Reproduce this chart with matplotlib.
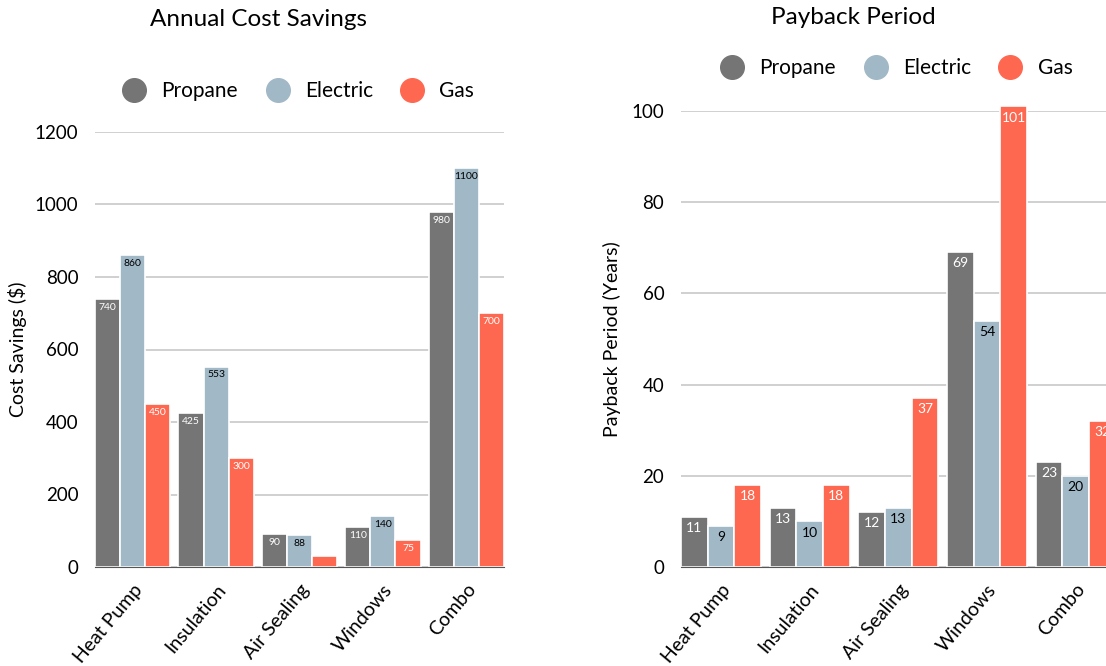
import numpy as np
import matplotlib
matplotlib.use("Agg")
from matplotlib import pyplot as plt
from matplotlib.lines import Line2D

plt.rcParams['font.family'] = ['Lato', 'DejaVu Sans']

categories = ["Heat Pump", "Insulation", "Air Sealing", "Windows", "Combo"]
fuels = ["Propane", "Electric", "Gas"]
colors = ["#757575", "#a1b8c7", "#ff6850"]
label_colors = ["white", "black", "white"]

# annual savings in dollars
savings_propane = [740, 425, 90, 110, 980]
savings_electric = [860, 553, 88, 140, 1100]
savings_gas = [450, 300, 30, 75, 700]

# payback in years
payback_propane = [11, 13, 12, 69, 23]
payback_electric = [9, 10, 13, 54, 20]
payback_gas = [18, 18, 37, 101, 32]

W, H = 1106, 666
fig = plt.figure(figsize=(W / 100, H / 100), dpi=100)


def grouped_bars(ax, series, label_size, label_off, min_label):
    x = np.arange(len(categories))
    bw = 0.3
    for k, vals in enumerate(series):
        xs = x + (k - 1) * bw
        ax.bar(xs, vals, width=bw, color=colors[k], edgecolor="white",
               linewidth=1.2, zorder=3, clip_on=False)
        for xi, v in zip(xs, vals):
            if v < min_label:
                continue
            ax.annotate(str(v), (xi, v), xytext=(0, -label_off),
                        textcoords="offset points", ha="center", va="center",
                        fontsize=label_size, color=label_colors[k], zorder=4,
                        annotation_clip=False)
    ax.set_xlim(-0.45, len(categories) - 0.55)
    ax.set_xticks(x)
    ax.set_xticklabels(categories, rotation=50, ha="right",
                       rotation_mode="anchor", fontsize=14)
    ax.tick_params(axis="x", length=0, pad=10)
    ax.tick_params(axis="y", length=0, pad=12, labelsize=13.5)
    for s in ["top", "right", "left"]:
        ax.spines[s].set_visible(False)
    ax.spines["bottom"].set_color("#555555")
    ax.spines["bottom"].set_zorder(5)
    ax.grid(axis="y", color="#c8c8c8", linewidth=1.2, zorder=0)
    ax.set_axisbelow(True)


def legend(ax, cx, cy):
    handles = [Line2D([], [], marker="o", linestyle="none", markersize=17,
                      markerfacecolor=c, markeredgecolor=c) for c in colors]
    ax.legend(handles, fuels, ncol=3, frameon=False, fontsize=15,
              loc="center", bbox_to_anchor=(cx, cy),
              bbox_transform=fig.transFigure, handletextpad=0.3,
              columnspacing=0.9)


# left: savings
ax1 = fig.add_axes([95 / W, 1 - 567 / H, 409 / W, 435 / H])
grouped_bars(ax1, [savings_propane, savings_electric, savings_gas], 7.5, 6, 50)
ax1.set_ylim(0, 1200)
ax1.set_yticks(np.arange(0, 1201, 200))
ax1.set_ylabel("Cost Savings ($)", fontsize=14)
ax1.yaxis.set_label_coords((27 - 95) / 409, 0.5)
legend(ax1, 294 / W, 1 - 91 / H)
fig.text(259 / W, 1 - 20 / H, "Annual Cost Savings", ha="center",
         va="center", fontsize=17.5)

# right: payback
ax2 = fig.add_axes([681 / W, 1 - 567 / H, 434.6 / W, 456 / H])
grouped_bars(ax2, [payback_propane, payback_electric, payback_gas], 10, 8, 0)
ax2.set_ylim(0, 100)
ax2.set_yticks(np.arange(0, 101, 20))
ax2.set_ylabel("Payback Period (Years)", fontsize=14)
ax2.yaxis.set_label_coords((621 - 681) / 434.6, 0.5)
legend(ax2, 892 / W, 1 - 68 / H)
fig.text(853 / W, 1 - 18 / H, "Payback Period", ha="center",
         va="center", fontsize=17.5)

fig.savefig("out.png", dpi=100)
